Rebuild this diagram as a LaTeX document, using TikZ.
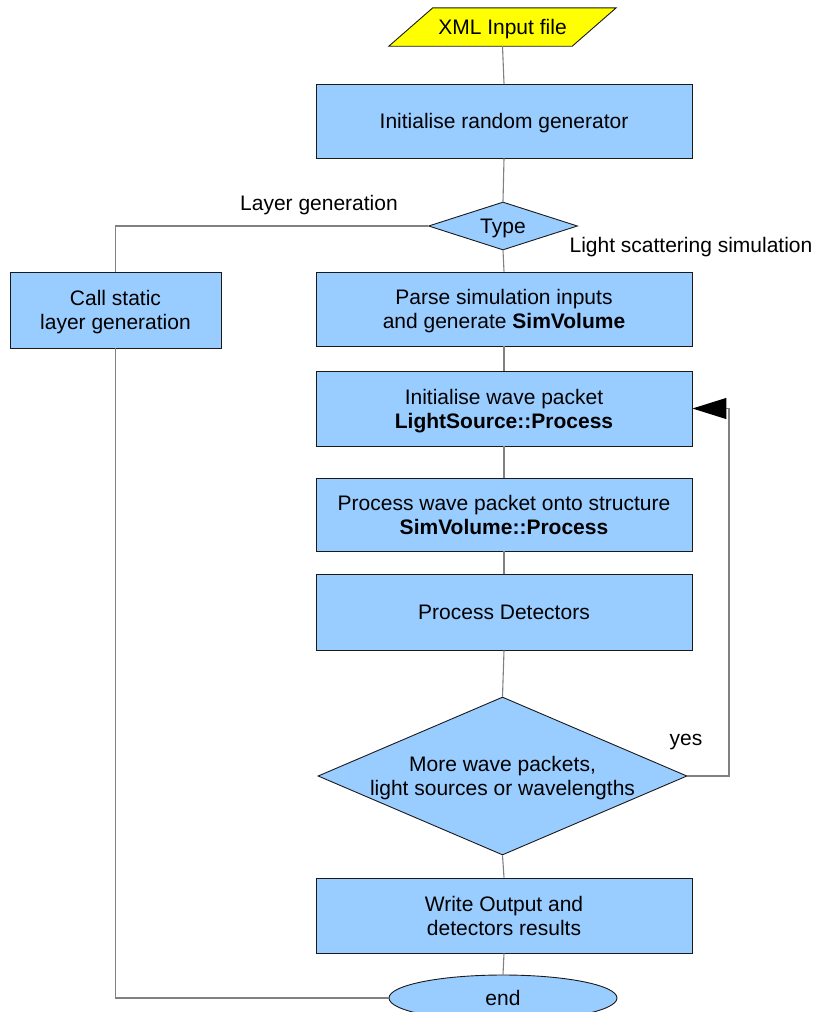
\documentclass[tikz,border=0pt]{standalone}
\usepackage{fontspec}
\setmainfont{Liberation Sans}
\usetikzlibrary{shapes.geometric,arrows.meta,calc,backgrounds}
\definecolor{boxblue}{HTML}{99CCFF}
\definecolor{inputyellow}{HTML}{FFFF00}
\definecolor{wire}{HTML}{808080}
\definecolor{edge}{HTML}{1A1A1A}
\begin{document}
\begin{tikzpicture}[x=1pt,y=-1pt,
  font=\fontsize{21}{24}\selectfont,
  every node/.style={text height=15pt,text depth=0pt},
  twoline/.style={text height=39pt},
  stepbox/.style={rectangle,draw=edge,line width=0.9pt,fill=boxblue,
    minimum width=376,inner sep=0,align=center},
  decision/.style={diamond,draw=edge,line width=0.9pt,fill=boxblue,inner sep=0},
  terminal/.style={ellipse,draw=edge,line width=0.9pt,fill=boxblue,
    minimum width=228,minimum height=46,inner sep=0},
  flow/.style={draw=wire,line width=1.1pt},
  caption/.style={inner sep=0}]
\useasboundingbox (0,0) rectangle (817,1012);

% input parallelogram
\node[caption,minimum width=183,minimum height=38] (xml) at (502.5,27) {XML Input file};
\begin{scope}[on background layer]
  \draw[edge,line width=0.9pt,fill=inputyellow]
    ($(xml.north west)+(22,0)$) -- ($(xml.north east)+(22,0)$)
    -- ($(xml.south east)+(-22,0)$) -- ($(xml.south west)+(-22,0)$) -- cycle;
\end{scope}

% main column
\node[stepbox,minimum height=74] (init) at (504,121) {Initialise random generator};
\node[decision,minimum width=149,minimum height=48,label=center:{Type}] (type) at (503,226) {};
\node[stepbox,twoline,minimum height=74] (parse) at (504,309)
  {Parse simulation inputs\\and generate \textbf{SimVolume}};
\node[stepbox,twoline,minimum height=75] (wave) at (504,408.5)
  {Initialise wave packet\\\textbf{LightSource::Process}};
\node[stepbox,twoline,minimum height=73] (proc) at (504,514.5)
  {Process wave packet onto structure\\\textbf{SimVolume::Process}};
\node[stepbox,minimum height=76] (det) at (504,612) {Process Detectors};
\node[decision,minimum width=369,minimum height=158,
  label={[align=center,twoline]center:{More wave packets,\\light sources or wavelengths}}] (more) at (502.5,776) {};
\node[stepbox,twoline,minimum height=75] (write) at (504,915.5)
  {Write Output and\\detectors results};
\node[terminal] (end) at (503,998) {end};

% side branch
\node[stepbox,twoline,minimum width=211,minimum height=76] (layer) at (115.5,310)
  {Call static\\layer generation};

% connectors
\draw[flow] (xml.south) -- (init.north);
\draw[flow] (init.south) -- (type.north);
\draw[flow] (type.south) -- (parse.north);
\draw[flow] (parse.south) -- (wave.north);
\draw[flow] (wave.south) -- (proc.north);
\draw[flow] (proc.south) -- (det.north);
\draw[flow] (det.south) -- (more.north);
\draw[flow] (more.south) -- (write.north);
\draw[flow] (write.south) -- (end.north);
\draw[flow] (type.west) -| (layer.north);
\draw[flow] (layer.south) |- (end.west);
\coordinate (loop) at (729,776);
\draw[flow,-{Triangle[length=34,width=21,fill=black,color=black]}]
  (more.east) -- (loop) |- (wave.east);

% branch labels
\node[caption] (lblLayer) at (319,203) {Layer generation};
\node[caption] (lblLight) at (691,245) {Light scattering simulation};
\node[caption] (lblYes) at (686,737.5) {yes};
\end{tikzpicture}
\end{document}
